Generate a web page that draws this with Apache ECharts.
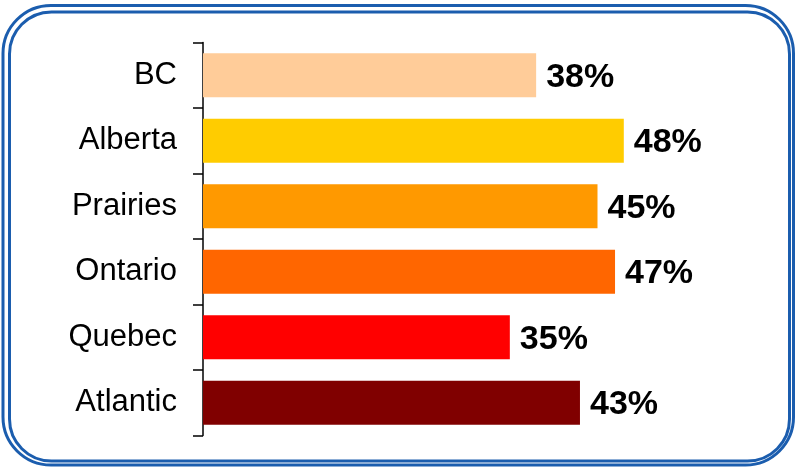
<!DOCTYPE html>
<html>
<head>
<meta charset="utf-8">
<script src="https://cdn.jsdelivr.net/npm/echarts@6/dist/echarts.min.js"></script>
<style>
  html, body { margin: 0; padding: 0; background: #ffffff; }
  #chart { width: 795px; height: 467px; }
</style>
</head>
<body>
<div id="chart"></div>
<script>
// Regions, top to bottom
const regions = ['BC', 'Alberta', 'Prairies', 'Ontario', 'Quebec', 'Atlantic'];
// Share per region (%)
const shares = [38, 48, 45, 47, 35, 43];
// Fill colour per region
const regionColors = ['#FFCC99', '#FFCC00', '#FF9900', '#FF6600', '#FF0000', '#800000'];

const FONT = '"Liberation Sans", Arial, Helvetica, sans-serif';
const BORDER = '#1B5DAE';

const chart = echarts.init(document.getElementById('chart'), null, { renderer: 'canvas' });

chart.setOption({
  animation: false,
  backgroundColor: '#ffffff',
  graphic: [
    {
      type: 'rect',
      shape: { x: 3, y: 5.5, width: 790.5, height: 459.5, r: 48 },
      style: { fill: 'none', stroke: BORDER, lineWidth: 3 }
    },
    {
      type: 'rect',
      shape: { x: 9.5, y: 12, width: 780, height: 449, r: 42 },
      style: { fill: 'none', stroke: BORDER, lineWidth: 3 }
    }
  ],
  grid: { left: 203, top: 42.5, bottom: 31.5, right: 66, containLabel: false },
  xAxis: {
    type: 'value',
    min: 0,
    max: 60,
    show: false
  },
  yAxis: {
    type: 'category',
    data: regions,
    inverse: true,
    axisLine: { show: true, lineStyle: { color: '#000000', width: 1.5 } },
    axisTick: { show: true, length: 10, lineStyle: { color: '#000000', width: 1.5 } },
    axisLabel: {
      margin: 26,
      color: '#000000',
      fontSize: 31,
      fontFamily: FONT
    },
    splitLine: { show: false }
  },
  series: [{
    type: 'bar',
    data: shares.map((v, i) => ({ value: v, itemStyle: { color: regionColors[i] } })),
    barWidth: 44,
    label: {
      show: true,
      position: 'right',
      distance: 10,
      offset: [0, 2],
      formatter: p => p.value + '%',
      color: '#000000',
      fontSize: 34,
      fontWeight: 'bold',
      fontFamily: FONT
    }
  }]
});
</script>
</body>
</html>
